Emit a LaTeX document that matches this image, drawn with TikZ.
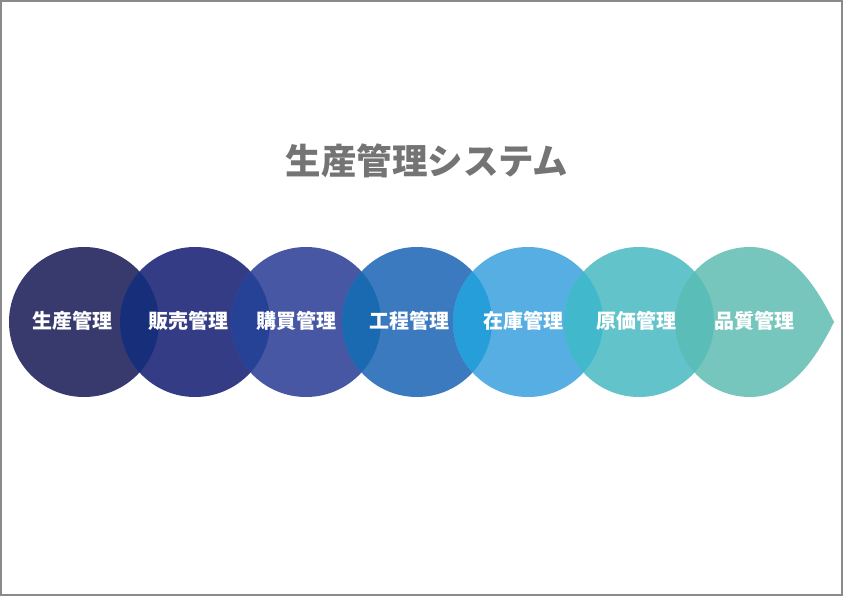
\documentclass[tikz,border=0pt]{standalone}
\usepackage{fontspec}
\newfontfamily\cjk{Noto Sans CJK JP}
\definecolor{cA}{HTML}{383A6E}
\definecolor{cB}{HTML}{353C86}
\definecolor{cC}{HTML}{4757A4}
\definecolor{cD}{HTML}{3C7AC0}
\definecolor{cE}{HTML}{56AEE2}
\definecolor{cF}{HTML}{63C3CB}
\definecolor{cG}{HTML}{76C6BE}
\definecolor{oAB}{HTML}{172F7A}
\definecolor{oBC}{HTML}{264296}
\definecolor{oCD}{HTML}{1A6AB2}
\definecolor{oDE}{HTML}{269EDA}
\definecolor{oEF}{HTML}{42B8CC}
\definecolor{oFG}{HTML}{5ABDB8}
\definecolor{titlegray}{HTML}{747474}
\definecolor{framegray}{HTML}{8A8A8A}
\tikzset{
  lbl/.style={text=white, font=\cjk\bfseries\fontsize{20}{22}\selectfont, inner sep=0pt},
  ttl/.style={text=titlegray, font=\cjk\bfseries\fontsize{35.5}{40}\selectfont, inner sep=0pt}
}
\begin{document}
\begin{tikzpicture}[x=1pt,y=-1pt]
\useasboundingbox (0,0) rectangle (844,597);
\fill[white] (0,0) rectangle (844,597);
\draw[framegray, line width=1.2pt] (1,1) rectangle (842,595);
\def\R{75}
% circles
\fill[cA] (84,322) circle[radius=\R];
\fill[cB] (195,322) circle[radius=\R];
\fill[cC] (306,322) circle[radius=\R];
\fill[cD] (417,322) circle[radius=\R];
\fill[cE] (528,322) circle[radius=\R];
\fill[cF] (639,322) circle[radius=\R];
\fill[cG] (750,247) .. controls (793,247) and (818,290) .. (834,322) .. controls (818,354) and (793,397) .. (750,397) arc[start angle=90, end angle=270, radius=75] -- cycle;
% overlaps
\begin{scope}\clip (84,322) circle[radius=\R]; \fill[oAB] (195,322) circle[radius=\R];\end{scope}
\begin{scope}\clip (195,322) circle[radius=\R]; \fill[oBC] (306,322) circle[radius=\R];\end{scope}
\begin{scope}\clip (306,322) circle[radius=\R]; \fill[oCD] (417,322) circle[radius=\R];\end{scope}
\begin{scope}\clip (417,322) circle[radius=\R]; \fill[oDE] (528,322) circle[radius=\R];\end{scope}
\begin{scope}\clip (528,322) circle[radius=\R]; \fill[oEF] (639,322) circle[radius=\R];\end{scope}
\begin{scope}\clip (639,322) circle[radius=\R]; \fill[oFG] (750,322) circle[radius=\R];\end{scope}
% title
\node[ttl] (title) at (427,161) {生産管理システム};
% labels
\node[lbl] (l1) at (72,321) {生産管理};
\node[lbl] (l2) at (188,321) {販売管理};
\node[lbl] (l3) at (296,321) {購買管理};
\node[lbl] (l4) at (409,321) {工程管理};
\node[lbl] (l5) at (523,321) {在庫管理};
\node[lbl] (l6) at (636,321) {原価管理};
\node[lbl] (l7) at (754,321) {品質管理};
\end{tikzpicture}
\end{document}
